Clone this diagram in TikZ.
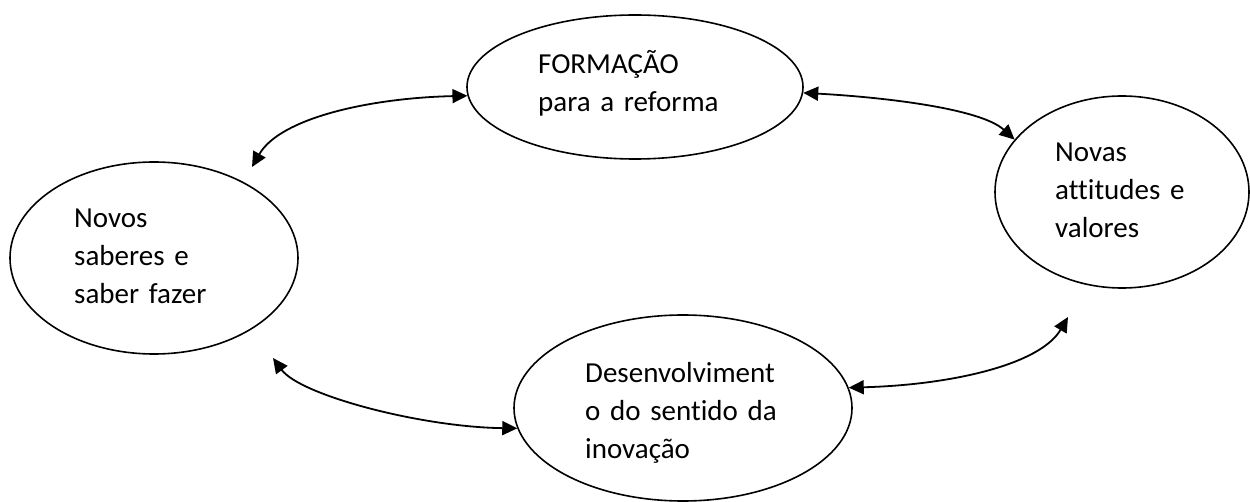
\documentclass[tikz,border=0pt]{standalone}
\usepackage{fontspec}
\setmainfont[Ligatures=NoCommon]{Carlito}
\usetikzlibrary{shapes.geometric,arrows.meta}
\newcommand\lblfont{\fontsize{29}{38}\selectfont\spaceskip 4.6pt\relax}
\tikzset{
  ell/.style={draw, ellipse, line width=1.6pt, inner sep=0pt},
  lbl/.style={anchor=base west, inner sep=0pt, text width=260pt, align=left,
    font=\lblfont},
  link/.style={line width=1.8pt, {Triangle[length=15pt,width=14pt]}-{Triangle[length=15pt,width=14pt]}}
}
\begin{document}
\begin{tikzpicture}[x=1pt,y=-1pt]
\useasboundingbox (0,0) rectangle (1250,502);
% ellipses
\node[ell, minimum width=336pt, minimum height=144pt] (top) at (635,87) {};
\node[ell, minimum width=288pt, minimum height=192pt] (left) at (154,258) {};
\node[ell, minimum width=254pt, minimum height=192pt] (right) at (1122,192) {};
\node[ell, minimum width=338pt, minimum height=186pt] (bottom) at (683,408) {};
% labels
\node[lbl] (ttop) at (538,74) {FORMAÇÃO\\para a reforma};
\node[lbl] (tleft) at (74,228) {Novos\\saberes e\\saber fazer};
\node[lbl] (tright) at (1055,162) {Novas\\attitudes e\\valores};
\node[lbl] (tbottom) at (585,382) {Desenvolviment\\o do sentido da\\inovação};
% free ends
\coordinate (a1) at (252,167);
\coordinate (a3) at (273,358);
\coordinate (a4) at (1068,317);
% connectors
\draw[link] (a1) .. controls (280,118) and (370,98) .. (top.183);
\draw[link] (top.-2) .. controls (880,97) and (980,108) .. (right.154.5);
\draw[link] (a3) .. controls (300,395) and (420,427) .. (bottom.187);
\draw[link] (bottom.7) .. controls (950,385) and (1040,365) .. (a4);
\end{tikzpicture}
\end{document}
